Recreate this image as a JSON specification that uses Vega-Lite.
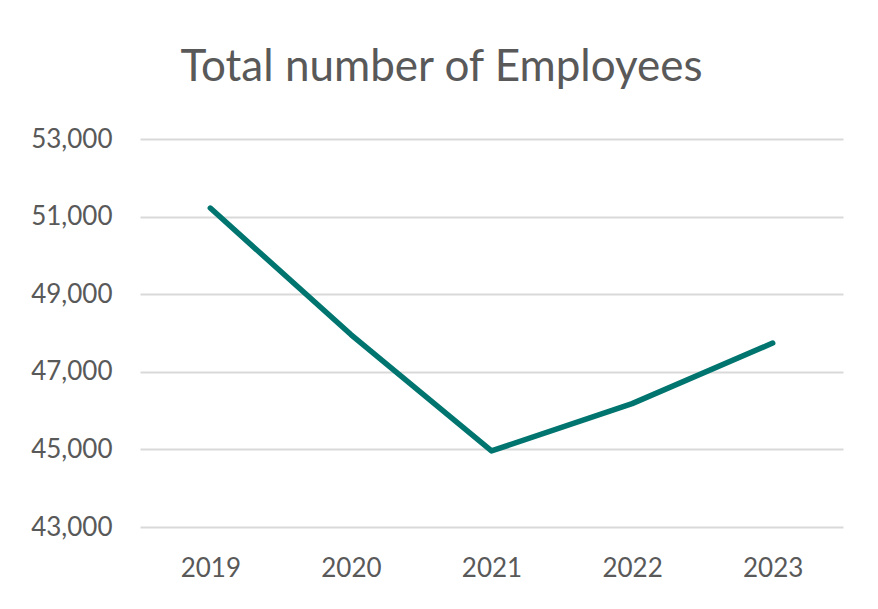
{
  "$schema": "https://vega.github.io/schema/vega-lite/v6.json",
  "width": 703,
  "height": 388,
  "autosize": {"type": "none"},
  "padding": {"left": 140, "top": 139, "right": 35, "bottom": 82},
  "background": "white",
  "title": {
    "text": "Total number of Employees",
    "font": "Lato",
    "fontSize": 44,
    "fontWeight": "normal",
    "color": "#595959",
    "anchor": "middle",
    "dx": -50,
    "offset": 36
  },
  "data": {
    "values": [
      {"year": "2019", "employees": 51220},
      {"year": "2020", "employees": 47960},
      {"year": "2021", "employees": 44960},
      {"year": "2022", "employees": 46180},
      {"year": "2023", "employees": 47740}
    ]
  },
  "mark": {"type": "line", "color": "#00756F", "strokeWidth": 5.5, "strokeCap": "round", "strokeJoin": "round"},
  "encoding": {
    "x": {
      "field": "year",
      "type": "ordinal",
      "scale": {"type": "point", "padding": 0.5},
      "axis": {
        "title": null,
        "labelAngle": 0,
        "ticks": false,
        "domain": false,
        "grid": false,
        "labelFont": "Lato",
        "labelFontSize": 26,
        "labelColor": "#595959",
        "labelPadding": 28
      }
    },
    "y": {
      "field": "employees",
      "type": "quantitative",
      "scale": {"domain": [43000, 53000], "zero": false, "nice": false},
      "axis": {
        "title": null,
        "values": [43000, 45000, 47000, 49000, 51000, 53000],
        "format": ",d",
        "ticks": false,
        "domain": false,
        "grid": true,
        "gridColor": "#D9D9D9",
        "gridWidth": 2,
        "labelFont": "Lato",
        "labelFontSize": 26,
        "labelColor": "#595959",
        "labelPadding": 28
      }
    }
  },
  "config": {"view": {"stroke": null}}
}
